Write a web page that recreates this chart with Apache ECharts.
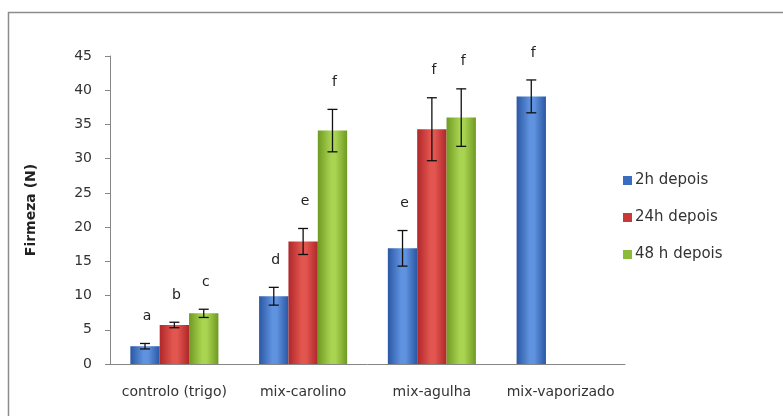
<!DOCTYPE html>
<html>
<head>
<meta charset="utf-8">
<script src="https://cdn.jsdelivr.net/npm/echarts@6/dist/echarts.min.js"></script>
<style>
  html, body { margin: 0; padding: 0; background: #fff; }
  #chart { width: 783px; height: 416px; }
</style>
</head>
<body>
<div id="chart"></div>
<script>
// Firmness (N) of each mix, measured 2h, 24h and 48h after preparation
const categories = ['controlo (trigo)', 'mix-carolino', 'mix-agulha', 'mix-vaporizado'];
const seriesNames = ['2h depois', '24h depois', '48 h depois'];

const mean2h  = [2.6, 9.9, 16.9, 39.1];
const mean24h = [5.7, 17.9, 34.3, null];
const mean48h = [7.4, 34.1, 36.0, null];

const err2h  = [0.4, 1.3, 2.6, 2.4];
const err24h = [0.4, 1.9, 4.6, null];
const err48h = [0.6, 3.1, 4.2, null];

const letters2h  = ['a', 'd', 'e', 'f'];
const letters24h = ['b', 'e', 'f', null];
const letters48h = ['c', 'f', 'f', null];

const yTicks = { min: 0, max: 45, interval: 5 };

const CAT_GAP = 0.316;
const FONT = '"DejaVu Sans", "Open Sans", sans-serif';

function barGradient(edge, mid) {
  return new echarts.graphic.LinearGradient(0, 0, 1, 0, [
    { offset: 0, color: edge },
    { offset: 0.45, color: mid },
    { offset: 0.6, color: mid },
    { offset: 1, color: edge }
  ]);
}

const palette = [
  { edge: '#2b57a3', mid: '#5f93e0', legend: '#3a6cc0' },
  { edge: '#b0272a', mid: '#e2564f', legend: '#c73a38' },
  { edge: '#6f9a22', mid: '#a9d451', legend: '#8cbb3a' }
];

const means = [mean2h, mean24h, mean48h];
const errs = [err2h, err24h, err48h];
const letters = [letters2h, letters24h, letters48h];

const barSeries = seriesNames.map((name, s) => ({
  name: name,
  type: 'bar',
  data: means[s],
  barGap: '0%',
  barCategoryGap: (CAT_GAP * 100) + '%',
  itemStyle: { color: barGradient(palette[s].edge, palette[s].mid) },
  emphasis: { disabled: true }
}));

// Error bars plus significance letters, placed over each bar of the group
const errorSeries = seriesNames.map((name, s) => ({
  type: 'custom',
  silent: true,
  z: 10,
  data: means[s].map((m, i) => m == null ? null : [i, m, errs[s][i]]),
  renderItem: function (params, api) {
    const i = api.value(0);
    const m = api.value(1);
    const e = api.value(2);
    const band = api.size([1, 0])[0];
    const bw = band * (1 - CAT_GAP) / 3;
    const cx = api.coord([i, 0])[0] + (s - 1) * bw;
    const yTop = api.coord([i, m + e])[1];
    const yBot = api.coord([i, m - e])[1];
    const cap = 5;
    const stroke = { stroke: '#111', lineWidth: 1.3 };
    const children = [
      { type: 'line', shape: { x1: cx, y1: yTop, x2: cx, y2: yBot }, style: stroke },
      { type: 'line', shape: { x1: cx - cap, y1: yTop, x2: cx + cap, y2: yTop }, style: stroke },
      { type: 'line', shape: { x1: cx - cap, y1: yBot, x2: cx + cap, y2: yBot }, style: stroke }
    ];
    const letter = letters[s][params.dataIndex];
    if (letter) {
      children.push({
        type: 'text',
        style: {
          text: letter, x: cx + 2, y: yTop - 27,
          align: 'center', verticalAlign: 'middle',
          font: '14px ' + FONT, fill: '#222'
        }
      });
    }
    return { type: 'group', children: children };
  }
}));

const chart = echarts.init(document.getElementById('chart'), null, { renderer: 'canvas' });
chart.setOption({
  animation: false,
  backgroundColor: '#fff',
  textStyle: { fontFamily: FONT },
  graphic: [{
    type: 'rect',
    shape: { x: 8.5, y: 12.5, width: 800, height: 430 },
    style: { fill: 'none', stroke: '#8c8c8c', lineWidth: 1.5 },
    silent: true
  }],
  grid: { left: 110, right: 158, top: 56, bottom: 52 },
  legend: {
    orient: 'vertical',
    left: 618,
    top: 168,
    itemWidth: 9,
    itemHeight: 9,
    itemGap: 22,
    icon: 'rect',
    textStyle: { fontSize: 15, color: '#333', fontFamily: FONT, padding: [0, 0, 0, -2] },
    data: seriesNames.map((n, s) => ({ name: n, itemStyle: { color: palette[s].legend } }))
  },
  xAxis: {
    type: 'category',
    data: categories,
    axisLine: { lineStyle: { color: '#868686', width: 1 } },
    axisTick: { show: false },
    axisLabel: { interval: 0, color: '#333', fontSize: 14, margin: 21, fontFamily: FONT }
  },
  yAxis: {
    type: 'value',
    min: yTicks.min,
    max: yTicks.max,
    interval: yTicks.interval,
    name: 'Firmeza (N)',
    nameLocation: 'middle',
    nameGap: 72,
    nameTextStyle: { fontSize: 14, fontWeight: 'bold', color: '#222', fontFamily: FONT },
    axisLine: { show: true, lineStyle: { color: '#868686', width: 1 } },
    axisTick: { show: true, length: 5, lineStyle: { color: '#868686' } },
    splitLine: { show: false },
    axisLabel: { color: '#333', fontSize: 14, margin: 18, fontFamily: FONT }
  },
  series: barSeries.concat(errorSeries)
});
</script>
</body>
</html>
